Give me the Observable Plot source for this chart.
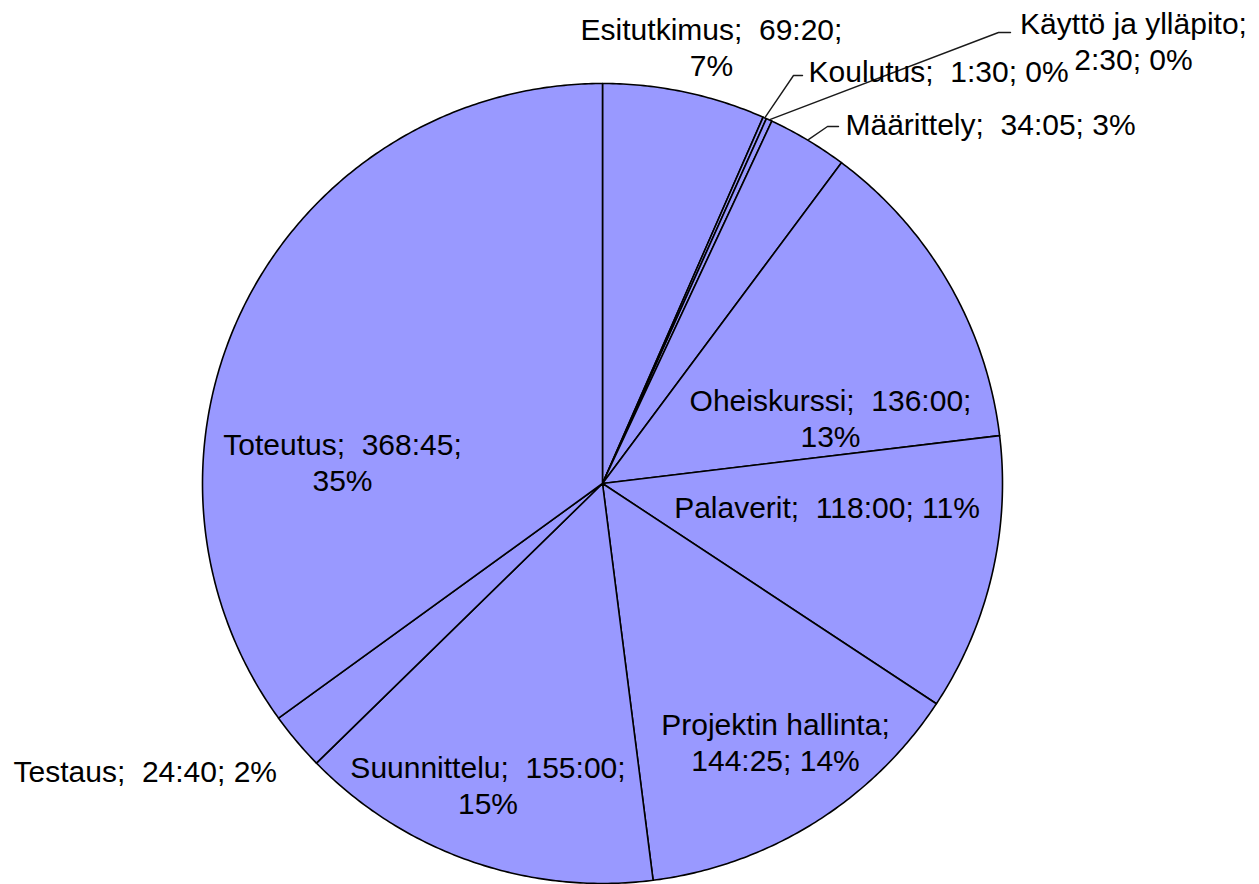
<!DOCTYPE html>
<html>
<head>
<meta charset="utf-8">
<script src="https://cdn.jsdelivr.net/npm/d3@7"></script>
<script src="https://cdn.jsdelivr.net/npm/@observablehq/plot@0.6"></script>
<style>
  html, body { margin: 0; padding: 0; background: #ffffff; }
  #chart svg { display: block; }
</style>
</head>
<body>
<div id="chart"></div>
<script>
// ---- data ----
const categories = ["Esitutkimus", "Koulutus", "Käyttö ja ylläpito", "Määrittely", "Oheiskurssi",
                    "Palaverit", "Projektin hallinta", "Suunnittelu", "Testaus", "Toteutus"];
const durations = ["69:20", "1:30", "2:30", "34:05", "136:00",
                   "118:00", "144:25", "155:00", "24:40", "368:45"];

// ---- label layout (in pie-radius units, centre = 0,0) ----
const labelForms = ["two", "one", "nameBreak", "one", "two", "one", "nameBreak", "two", "one", "two"];
const labelX = [0.2725, 0.515, 1.3275, 0.6075, 0.57, 0.5613, 0.4325, -0.2863, -1.4725, -0.65];
const labelY = [1.1733, 1.0683, 1.1883, 0.9358, 0.2458, -0.0218, -0.5643, -0.6718, -0.6818, 0.1358];
const labelAnchor = ["middle", "start", "middle", "start", "middle", "middle", "middle", "middle", "start", "middle"];
// leader lines: bend point and end point
const leaderCats = ["Koulutus", "Käyttö ja ylläpito", "Määrittely"];
const leaderBend = [[0.4775, 1.02], [0.99, 1.1275], [0.5625, 0.8925]];
const leaderEnd = [[0.5, 1.02], [1.02, 1.1275], [0.59, 0.8925]];

// ---- derived ----
const hours = durations.map(s => { const [h, m] = s.split(":").map(Number); return h + m / 60; });
const total = d3.sum(hours);
const slices = [];
let acc = 0;
categories.forEach((name, i) => {
  const a0 = acc / total * 2 * Math.PI;
  acc += hours[i];
  const a1 = acc / total * 2 * Math.PI;
  slices.push({name, a0, a1, mid: (a0 + a1) / 2, pct: Math.round(hours[i] / total * 100), dur: durations[i], i});
});

// polygon points for each slice (angles clockwise from 12 o'clock)
const slicePts = [];
for (const s of slices) {
  slicePts.push({name: s.name, x: 0, y: 0});
  const n = Math.max(2, Math.ceil((s.a1 - s.a0) / (Math.PI / 360)));
  for (let k = 0; k <= n; k++) {
    const a = s.a0 + (s.a1 - s.a0) * k / n;
    slicePts.push({name: s.name, x: Math.sin(a), y: Math.cos(a)});
  }
  slicePts.push({name: s.name, x: 0, y: 0});
}

const labels = slices.map(s => {
  const form = labelForms[s.i];
  let text;
  if (form === "two") text = `${s.name};\u00a0 ${s.dur};\n${s.pct}%`;
  else if (form === "nameBreak") text = `${s.name};\n${s.dur}; ${s.pct}%`;
  else text = `${s.name};\u00a0 ${s.dur}; ${s.pct}%`;
  return {text, x: labelX[s.i], y: labelY[s.i], anchor: labelAnchor[s.i]};
});

const leaderPts = [];
leaderCats.forEach((c, j) => {
  const s = slices.find(d => d.name === c);
  leaderPts.push({name: c, x: Math.sin(s.mid), y: Math.cos(s.mid)});
  leaderPts.push({name: c, x: leaderBend[j][0], y: leaderBend[j][1]});
  leaderPts.push({name: c, x: leaderEnd[j][0], y: leaderEnd[j][1]});
});

const font = "'Liberation Sans', Arial, Helvetica, sans-serif";
const textOpts = anchor => ({
  x: "x", y: "y", text: "text", textAnchor: anchor, lineAnchor: "top",
  fontSize: 30, lineHeight: 1.2, fontFamily: font, fill: "#000"
});

const chart = Plot.plot({
  width: 1259,
  height: 884,
  margin: 0,
  style: {background: "#ffffff", fontFamily: font},
  x: {domain: [-1.505, 1.6425], range: [0, 1259], axis: null},
  y: {domain: [-1.0025, 1.2075], range: [884, 0], axis: null},
  marks: [
    Plot.line(slicePts, {x: "x", y: "y", z: "name", fill: "#9999ff", stroke: "#000", strokeWidth: 1.6, strokeLinejoin: "round"}),
    Plot.line(leaderPts, {x: "x", y: "y", z: "name", stroke: "#1a1a1a", strokeWidth: 1.4}),
    Plot.text(labels.filter(d => d.anchor === "middle"), textOpts("middle")),
    Plot.text(labels.filter(d => d.anchor === "start"), textOpts("start"))
  ]
});
document.getElementById("chart").appendChild(chart);
</script>
</body>
</html>
